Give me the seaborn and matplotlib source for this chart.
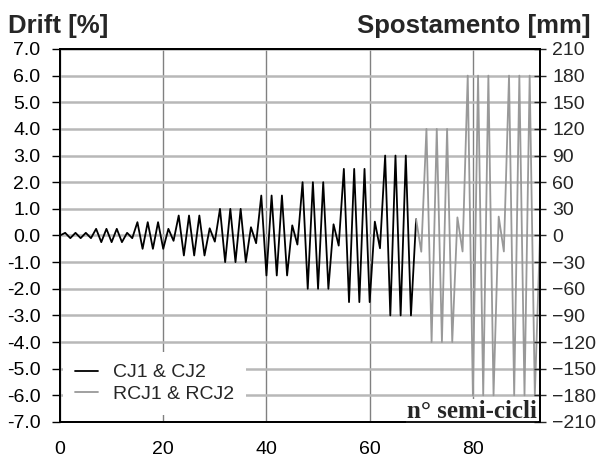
import numpy as np
import pandas as pd
import seaborn as sns
import matplotlib
matplotlib.use("Agg")
import matplotlib.pyplot as plt
from matplotlib.ticker import MultipleLocator, FormatStrFormatter

# drift [%] per semi-ciclo
cj_x = list(range(0, 70))
cj_y = [0.0,
        0.1, -0.1, 0.1, -0.1, 0.1, -0.1,
        0.25, -0.25, 0.25, -0.25, 0.25, -0.25,
        0.1, -0.1,
        0.5, -0.5, 0.5, -0.5, 0.5, -0.5,
        0.25, -0.2,
        0.75, -0.75, 0.75, -0.75, 0.75, -0.75,
        0.27, -0.23,
        1.0, -1.0, 1.0, -1.0, 1.0, -1.0,
        0.31, -0.29,
        1.5, -1.5, 1.5, -1.5, 1.5, -1.5,
        0.38, -0.34,
        2.0, -2.0, 2.0, -2.0, 2.0, -2.0,
        0.42, -0.38,
        2.5, -2.5, 2.5, -2.5, 2.5, -2.5,
        0.52, -0.48,
        3.0, -3.0, 3.0, -3.0, 3.0, -3.0,
        0.61]

rcj_x = list(range(69, 94))
rcj_y = [0.61, -0.61,
         4.0, -4.0, 4.0, -4.0, 4.0, -4.0,
         0.68, -0.6,
         6.0, -6.0, 6.0, -6.0, 6.0, -6.0,
         0.71, -0.6,
         6.0, -6.0, 6.0, -6.0, 6.0, -6.0,
         0.0]

labels = ["CJ1 & CJ2", "RCJ1 & RCJ2"]

df = pd.concat([
    pd.DataFrame({"n": cj_x, "drift": cj_y, "serie": labels[0]}),
    pd.DataFrame({"n": rcj_x, "drift": rcj_y, "serie": labels[1]}),
])

sns.set_style("white")
plt.rcParams['font.family'] = ['Liberation Sans', 'DejaVu Sans']

fig, ax = plt.subplots(figsize=(5.97, 4.57), dpi=100)
fig.subplots_adjust(left=0.1005, right=0.9045, bottom=0.0766, top=0.8928)

sns.lineplot(data=df, x="n", y="drift", hue="serie", ax=ax,
             palette={labels[0]: "black", labels[1]: "#999999"},
             estimator=None, sort=False, linewidth=1.3, zorder=3)

ax.set_xlim(0, 93)
ax.set_ylim(-7, 7)
ax.xaxis.set_major_locator(MultipleLocator(20))
ax.yaxis.set_major_locator(MultipleLocator(1))
ax.yaxis.set_major_formatter(FormatStrFormatter('%.1f'))
ax.set_xlabel("")
ax.set_ylabel("")
ax.set_axisbelow(True)
ax.yaxis.grid(True, color="#b8b8b8", linewidth=1.8)
ax.xaxis.grid(True, color="#808080", linewidth=1.0)
for s in ax.spines.values():
    s.set_color("black")
    s.set_linewidth(1.3)
ax.tick_params(axis="both", direction="out", length=5, width=1, colors="black",
               labelsize=14)
ax.tick_params(axis="x", pad=8.5)
ax.tick_params(axis="y", pad=8, length=6)

ax2 = ax.twinx()
ax2.set_ylim(-210, 210)
ax2.yaxis.set_major_locator(MultipleLocator(30))
ax2.tick_params(axis="y", direction="inout", length=8, width=1, labelsize=14, pad=5)
ax2.grid(False)
for s in ax2.spines.values():
    s.set_linewidth(1.3)
    s.set_color("black")

leg = ax.legend(loc="lower left", bbox_to_anchor=(0.006, 0.02), fontsize=14,
                frameon=True, facecolor="white", edgecolor="none", framealpha=1,
                handlelength=1.2, handletextpad=0.8, borderpad=0.6,
                borderaxespad=0, labelspacing=0.2)
leg.set_zorder(5)

ax.text(0.994, 0.012, "n° semi-cicli", transform=ax.transAxes, ha="right", va="baseline",
        family="Liberation Serif", weight="bold", fontsize=18, zorder=6,
        bbox=dict(facecolor="white", edgecolor="none", pad=0.5))

fig.text(0.013, 0.928, "Drift [%]", weight="bold", fontsize=18.5, ha="left", va="baseline")
fig.text(0.99, 0.928, "Spostamento [mm]", weight="bold", fontsize=18.5, ha="right", va="baseline")

fig.savefig("out.png", dpi=100)
